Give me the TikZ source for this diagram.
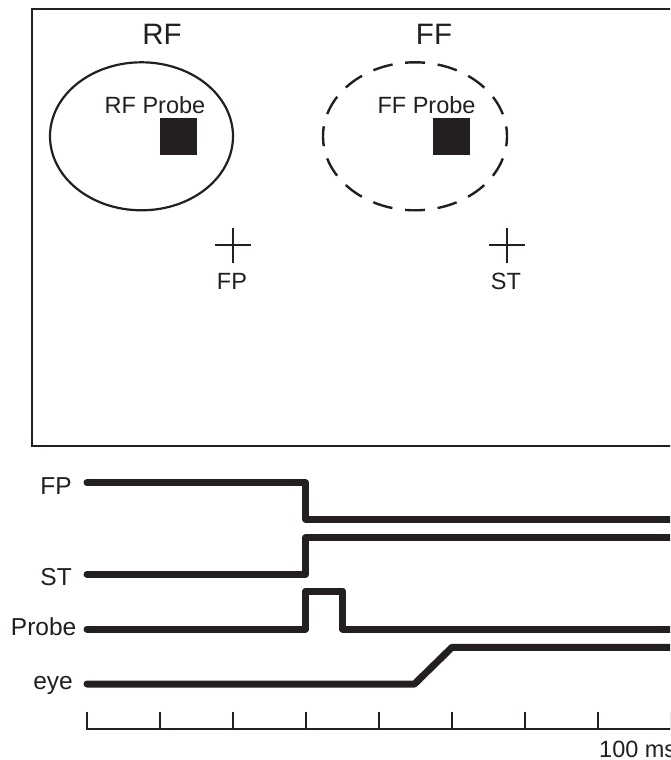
\documentclass[tikz,border=0pt]{standalone}
\usepackage{fontspec}
\setmainfont{Liberation Sans}
\definecolor{ink}{RGB}{35,31,32}
\begin{document}
\begin{tikzpicture}[x=1pt,y=-1pt,
  frame/.style={draw=ink,line width=2pt},
  field/.style={draw=ink,line width=2.2pt},
  probebox/.style={fill=ink,draw=none},
  fixmark/.style={draw=ink,line width=2.2pt},
  title/.style={font=\fontsize{29.5}{34}\selectfont,text=ink,inner sep=0pt,anchor=base},
  lbl/.style={font=\fontsize{23.5}{27}\selectfont,text=ink,inner sep=0pt},
  siglbl/.style={font=\fontsize{24.5}{28}\selectfont,text=ink,inner sep=0pt,anchor=base east},
  trace/.style={draw=ink,line width=7pt,line cap=round,line join=round},
  axis/.style={draw=ink,line width=2pt}]
\clip (0,0) rectangle (670,760);
\fill[white] (0,0) rectangle (670,760);

% screen layout
\draw[frame] (32,9) rectangle (700,446);
\node[title] (trf) at (162,45) {RF};
\node[title] (tff) at (434,45) {FF};

% receptive field and future field
\draw[field] (141.5,136.3) ellipse [x radius=91.5, y radius=74];
\draw[field,line width=2.4pt,dash pattern=on 20pt off 12.7pt,dash phase=10pt] (415,136.3) ellipse [x radius=92, y radius=74];
\node[lbl,anchor=base] (lrfp) at (155,113) {RF Probe};
\node[lbl,anchor=base] (lffp) at (426.5,113) {FF Probe};
\fill[probebox] (160,118) rectangle (197,155);
\fill[probebox] (433,118) rectangle (470,155);

% fixation point and saccade target
\coordinate (fp) at (233,245);
\coordinate (st) at (507,245);
\foreach \c in {fp,st}{
  \draw[fixmark] ([xshift=-18pt]\c) -- ([xshift=18pt]\c);
  \draw[fixmark] ([yshift=17pt]\c) -- ([yshift=-18pt]\c);
}
\node[lbl,anchor=base] (lfp) at (232,289) {FP};
\node[lbl,anchor=base] (lst) at (506,289) {ST};

% timing traces
\node[siglbl] (tfp) at (72,494) {FP};
\node[siglbl] (tst) at (72,585) {ST};
\node[siglbl] (tpr) at (76.5,635) {Probe};
\node[siglbl] (tey) at (73,689) {eye};

\draw[trace] (87,482.7) -- (305.5,482.7) -- (305.5,519) -- (700,519);
\draw[trace] (87,574.3) -- (305.5,574.3) -- (305.5,537.7) -- (700,537.7);
\draw[trace] (87,629) -- (305.5,629) -- (305.5,591) -- (342.7,591) -- (342.7,629) -- (700,629);
\draw[trace] (87,684) -- (414.5,684) -- (452,647.3) -- (700,647.3);

% time axis
\draw[axis] (86.8,711.7) -- (86.8,729) -- (700,729);
\foreach \k in {1,...,8}
  \draw[axis] (86.8+73*\k,711.7) -- (86.8+73*\k,729);
\node[lbl,anchor=base west] (tms) at (599,757) {100 ms};
\end{tikzpicture}
\end{document}
